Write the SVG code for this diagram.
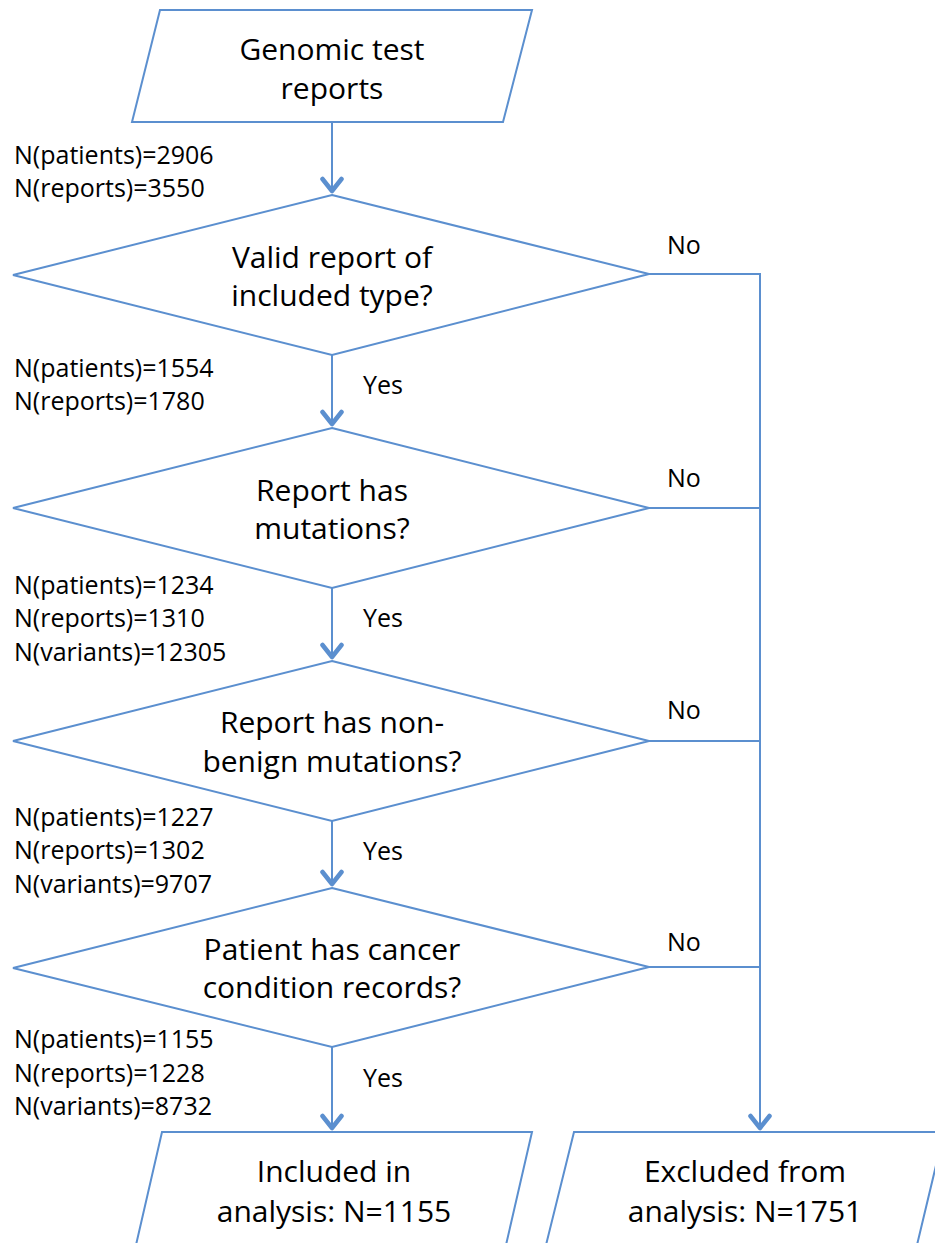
<svg xmlns="http://www.w3.org/2000/svg" width="935" height="1243" viewBox="0 0 935 1243">
<style>
.shape{fill:#ffffff;stroke:#5b8fcf;stroke-width:2}
.conn{fill:none;stroke:#5b8fcf;stroke-width:2}
.big{font-family:"Open Sans","Liberation Sans",sans-serif;font-size:30px;fill:#000;text-anchor:middle}
.sm{font-family:"Open Sans","Liberation Sans",sans-serif;font-size:25px;fill:#000}
</style>
<defs>
<marker id="arr" viewBox="0 0 18 24" refX="16" refY="12" markerWidth="18" markerHeight="24" markerUnits="userSpaceOnUse" orient="auto">
<path d="M3,2.5 L15,12 L3,21.5" fill="none" stroke="#5b8fcf" stroke-width="4.5" stroke-linecap="round" stroke-linejoin="round"/>
</marker>
</defs>
<rect width="935" height="1243" fill="#ffffff"/>
<g id="connectors">
<line class="conn" x1="332" y1="123" x2="332" y2="192" marker-end="url(#arr)"/>
<line class="conn" x1="332" y1="355" x2="332" y2="425" marker-end="url(#arr)"/>
<line class="conn" x1="332" y1="588" x2="332" y2="658" marker-end="url(#arr)"/>
<line class="conn" x1="332" y1="821" x2="332" y2="885" marker-end="url(#arr)"/>
<line class="conn" x1="332" y1="1047" x2="332" y2="1129" marker-end="url(#arr)"/>
<polyline class="conn" points="649,274 760,274 760,1129" marker-end="url(#arr)"/>
<line class="conn" x1="649" y1="508" x2="760" y2="508"/>
<line class="conn" x1="649" y1="741" x2="760" y2="741"/>
<line class="conn" x1="649" y1="967" x2="760" y2="967"/>
<text class="sm" x="363" y="394">Yes</text>
<text class="sm" x="363" y="627">Yes</text>
<text class="sm" x="363" y="860">Yes</text>
<text class="sm" x="363" y="1087">Yes</text>
<text class="sm" x="667" y="254">No</text>
<text class="sm" x="667" y="487">No</text>
<text class="sm" x="667" y="719">No</text>
<text class="sm" x="667" y="951">No</text>
<text class="sm" x="14" y="164">N(patients)=2906</text>
<text class="sm" x="14" y="197">N(reports)=3550</text>
<text class="sm" x="14" y="377">N(patients)=1554</text>
<text class="sm" x="14" y="410">N(reports)=1780</text>
<text class="sm" x="14" y="594">N(patients)=1234</text>
<text class="sm" x="14" y="627">N(reports)=1310</text>
<text class="sm" x="14" y="661">N(variants)=12305</text>
<text class="sm" x="14" y="826">N(patients)=1227</text>
<text class="sm" x="14" y="859">N(reports)=1302</text>
<text class="sm" x="14" y="893">N(variants)=9707</text>
<text class="sm" x="14" y="1048">N(patients)=1155</text>
<text class="sm" x="14" y="1082">N(reports)=1228</text>
<text class="sm" x="14" y="1115">N(variants)=8732</text>
</g>
<g id="start">
<polygon class="shape" points="160,10 532,10 503,122 132,122"/>
<text class="big" x="332" y="60">Genomic test</text>
<text class="big" x="332" y="99">reports</text>
</g>
<g id="d1">
<polygon class="shape" points="332,195 649,274 332,355 13,275"/>
<text class="big" x="332" y="268">Valid report of</text>
<text class="big" x="332" y="306">included type?</text>
</g>
<g id="d2">
<polygon class="shape" points="332,428 649,508 332,588 13,508"/>
<text class="big" x="332" y="501">Report has</text>
<text class="big" x="332" y="539">mutations?</text>
</g>
<g id="d3">
<polygon class="shape" points="332,661 649,741 332,821 13,741"/>
<text class="big" x="332" y="733">Report has non-</text>
<text class="big" x="332" y="772">benign mutations?</text>
</g>
<g id="d4">
<polygon class="shape" points="332,888 649,967 332,1047 13,968"/>
<text class="big" x="332" y="960">Patient has cancer</text>
<text class="big" x="332" y="998">condition records?</text>
</g>
<g id="included">
<polygon class="shape" points="162,1132 532,1132 506,1245 136,1245"/>
<text class="big" x="334" y="1182">Included in</text>
<text class="big" x="334" y="1222">analysis: N=1155</text>
</g>
<g id="excluded">
<polygon class="shape" points="574,1132 944,1132 917,1245 546,1245"/>
<text class="big" x="745" y="1182">Excluded from</text>
<text class="big" x="745" y="1222">analysis: N=1751</text>
</g>
</svg>
